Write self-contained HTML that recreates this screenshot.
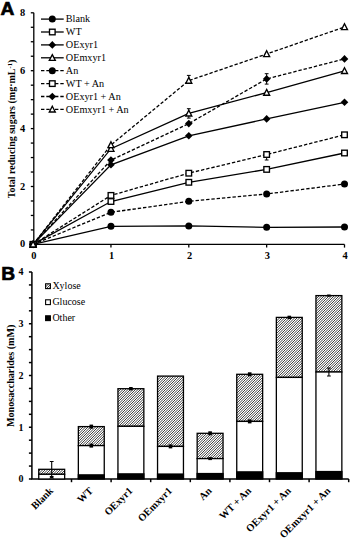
<!DOCTYPE html><html><head><meta charset="utf-8"><style>html,body{margin:0;padding:0;background:#fff;}body{width:350px;height:543px;overflow:hidden;font-family:"Liberation Serif", serif;}svg{display:block;}</style></head><body><svg width="350" height="543" viewBox="0 0 350 543">
<defs><pattern id="hatch" patternUnits="userSpaceOnUse" x="0" y="0" width="5" height="5"><rect width="5" height="5" fill="#fff"/><path d="M3.00 -3L-8.00 8M5.50 -3L-5.50 8M8.00 -3L-3.00 8M10.50 -3L-0.50 8M13.00 -3L2.00 8M15.50 -3L4.50 8" stroke="#000" stroke-width="0.75"/></pattern></defs>
<rect width="350" height="543" fill="#fff"/>
<text x="0.6" y="14.9" font-family="'Liberation Sans', sans-serif" font-weight="bold" font-size="19.2" stroke="#000" stroke-width="0.7">A</text>
<text x="1.2" y="280.2" font-family="'Liberation Sans', sans-serif" font-weight="bold" font-size="19.2" stroke="#000" stroke-width="0.7">B</text>
<g stroke="#000" stroke-width="1.3" fill="none">
<path d="M33.80 12.80V244.40H344.50"/>
<path d="M30.80 244.40H33.80"/>
<path d="M30.80 229.93H33.80"/>
<path d="M30.80 215.45H33.80"/>
<path d="M30.80 200.98H33.80"/>
<path d="M30.80 186.50H33.80"/>
<path d="M30.80 172.03H33.80"/>
<path d="M30.80 157.55H33.80"/>
<path d="M30.80 143.07H33.80"/>
<path d="M30.80 128.60H33.80"/>
<path d="M30.80 114.12H33.80"/>
<path d="M30.80 99.65H33.80"/>
<path d="M30.80 85.18H33.80"/>
<path d="M30.80 70.70H33.80"/>
<path d="M30.80 56.23H33.80"/>
<path d="M30.80 41.75H33.80"/>
<path d="M30.80 27.28H33.80"/>
<path d="M30.80 12.80H33.80"/>
<path d="M110.95 244.40V247.60"/>
<path d="M188.80 244.40V247.60"/>
<path d="M266.65 244.40V247.60"/>
<path d="M344.50 244.40V247.60"/>
</g>
<g font-family="'Liberation Serif', serif" font-weight="bold" font-size="10.4" text-anchor="middle" fill="#000" stroke="#000" stroke-width="0">
<text x="22.5" y="247.40">0</text>
<text x="22.5" y="189.50">2</text>
<text x="22.5" y="131.60">4</text>
<text x="22.5" y="73.70">6</text>
<text x="22.5" y="15.80">8</text>
<text x="33.80" y="258.9">0</text>
<text x="111.65" y="258.9">1</text>
<text x="189.50" y="258.9">2</text>
<text x="267.35" y="258.9">3</text>
<text x="345.20" y="258.9">4</text>
</g>
<text transform="translate(15.2 129) rotate(-90)" font-family="'Liberation Serif', serif" font-weight="bold" font-size="10" text-anchor="middle">Total reducing sugars (mg·mL<tspan font-size="6.5" dy="-3.5">-1</tspan><tspan dy="3.5">)</tspan></text>
<polyline points="33.10,244.40 110.95,226.30 188.80,225.90 266.65,227.30 344.50,227.00" fill="none" stroke="#000" stroke-width="1.3"/>
<polyline points="33.10,244.40 110.95,201.50 188.80,182.30 266.65,169.40 344.50,153.00" fill="none" stroke="#000" stroke-width="1.3"/>
<polyline points="33.10,244.40 110.95,164.80 188.80,135.80 266.65,118.90 344.50,102.30" fill="none" stroke="#000" stroke-width="1.3"/>
<polyline points="33.10,244.40 110.95,148.70 188.80,113.40 266.65,92.60 344.50,70.90" fill="none" stroke="#000" stroke-width="1.3"/>
<polyline points="33.10,244.40 110.95,212.30 188.80,201.30 266.65,194.00 344.50,184.00" fill="none" stroke="#000" stroke-width="1.3" stroke-dasharray="3.4 1.9"/>
<polyline points="33.10,244.40 110.95,195.40 188.80,173.20 266.65,154.50 344.50,134.80" fill="none" stroke="#000" stroke-width="1.3" stroke-dasharray="3.4 1.9"/>
<polyline points="33.10,244.40 110.95,160.10 188.80,123.60 266.65,78.90 344.50,58.90" fill="none" stroke="#000" stroke-width="1.3" stroke-dasharray="3.4 1.9"/>
<polyline points="33.10,244.40 110.95,145.00 188.80,80.60 266.65,54.00 344.50,27.00" fill="none" stroke="#000" stroke-width="1.3" stroke-dasharray="3.4 1.9"/>
<path d="M188.80 75.40V80.60M186.90 75.40H190.70" stroke="#000" stroke-width="1" fill="none"/>
<path d="M188.80 108.70V118.10M186.90 108.70H190.70M186.90 118.10H190.70" stroke="#000" stroke-width="1" fill="none"/>
<path d="M266.65 73.70V84.10M264.75 73.70H268.55M264.75 84.10H268.55" stroke="#000" stroke-width="1" fill="none"/>
<path d="M266.65 160.00V154.50M264.75 160.00H268.55" stroke="#000" stroke-width="1" fill="none"/>
<circle cx="33.10" cy="244.40" r="3.5" fill="#000"/>
<circle cx="110.95" cy="226.30" r="3.5" fill="#000"/>
<circle cx="188.80" cy="225.90" r="3.5" fill="#000"/>
<circle cx="266.65" cy="227.30" r="3.5" fill="#000"/>
<circle cx="344.50" cy="227.00" r="3.5" fill="#000"/>
<rect x="30.30" y="241.60" width="5.6" height="5.6" fill="#fff" stroke="#000" stroke-width="1.35"/>
<rect x="108.15" y="198.70" width="5.6" height="5.6" fill="#fff" stroke="#000" stroke-width="1.35"/>
<rect x="186.00" y="179.50" width="5.6" height="5.6" fill="#fff" stroke="#000" stroke-width="1.35"/>
<rect x="263.85" y="166.60" width="5.6" height="5.6" fill="#fff" stroke="#000" stroke-width="1.35"/>
<rect x="341.70" y="150.20" width="5.6" height="5.6" fill="#fff" stroke="#000" stroke-width="1.35"/>
<path d="M33.10 240.60L36.90 244.40L33.10 248.20L29.30 244.40Z" fill="#000"/>
<path d="M110.95 161.00L114.75 164.80L110.95 168.60L107.15 164.80Z" fill="#000"/>
<path d="M188.80 132.00L192.60 135.80L188.80 139.60L185.00 135.80Z" fill="#000"/>
<path d="M266.65 115.10L270.45 118.90L266.65 122.70L262.85 118.90Z" fill="#000"/>
<path d="M344.50 98.50L348.30 102.30L344.50 106.10L340.70 102.30Z" fill="#000"/>
<path d="M33.10 241.20L36.10 247.00L30.10 247.00Z" fill="#fff" stroke="#000" stroke-width="1.35" stroke-linejoin="miter"/>
<path d="M110.95 145.50L113.95 151.30L107.95 151.30Z" fill="#fff" stroke="#000" stroke-width="1.35" stroke-linejoin="miter"/>
<path d="M188.80 110.20L191.80 116.00L185.80 116.00Z" fill="#fff" stroke="#000" stroke-width="1.35" stroke-linejoin="miter"/>
<path d="M266.65 89.40L269.65 95.20L263.65 95.20Z" fill="#fff" stroke="#000" stroke-width="1.35" stroke-linejoin="miter"/>
<path d="M344.50 67.70L347.50 73.50L341.50 73.50Z" fill="#fff" stroke="#000" stroke-width="1.35" stroke-linejoin="miter"/>
<circle cx="33.10" cy="244.40" r="3.5" fill="#000"/>
<circle cx="110.95" cy="212.30" r="3.5" fill="#000"/>
<circle cx="188.80" cy="201.30" r="3.5" fill="#000"/>
<circle cx="266.65" cy="194.00" r="3.5" fill="#000"/>
<circle cx="344.50" cy="184.00" r="3.5" fill="#000"/>
<rect x="30.30" y="241.60" width="5.6" height="5.6" fill="#fff" stroke="#000" stroke-width="1.35"/>
<rect x="108.15" y="192.60" width="5.6" height="5.6" fill="#fff" stroke="#000" stroke-width="1.35"/>
<rect x="186.00" y="170.40" width="5.6" height="5.6" fill="#fff" stroke="#000" stroke-width="1.35"/>
<rect x="263.85" y="151.70" width="5.6" height="5.6" fill="#fff" stroke="#000" stroke-width="1.35"/>
<rect x="341.70" y="132.00" width="5.6" height="5.6" fill="#fff" stroke="#000" stroke-width="1.35"/>
<path d="M33.10 240.60L36.90 244.40L33.10 248.20L29.30 244.40Z" fill="#000"/>
<path d="M110.95 156.30L114.75 160.10L110.95 163.90L107.15 160.10Z" fill="#000"/>
<path d="M188.80 119.80L192.60 123.60L188.80 127.40L185.00 123.60Z" fill="#000"/>
<path d="M266.65 75.10L270.45 78.90L266.65 82.70L262.85 78.90Z" fill="#000"/>
<path d="M344.50 55.10L348.30 58.90L344.50 62.70L340.70 58.90Z" fill="#000"/>
<path d="M33.10 241.20L36.10 247.00L30.10 247.00Z" fill="#fff" stroke="#000" stroke-width="1.35" stroke-linejoin="miter"/>
<path d="M110.95 141.80L113.95 147.60L107.95 147.60Z" fill="#fff" stroke="#000" stroke-width="1.35" stroke-linejoin="miter"/>
<path d="M188.80 77.40L191.80 83.20L185.80 83.20Z" fill="#fff" stroke="#000" stroke-width="1.35" stroke-linejoin="miter"/>
<path d="M266.65 50.80L269.65 56.60L263.65 56.60Z" fill="#fff" stroke="#000" stroke-width="1.35" stroke-linejoin="miter"/>
<path d="M344.50 23.80L347.50 29.60L341.50 29.60Z" fill="#fff" stroke="#000" stroke-width="1.35" stroke-linejoin="miter"/>
<path d="M41.0 19.10H63.7" stroke="#000" stroke-width="1.3"/>
<circle cx="52.30" cy="19.10" r="3.5" fill="#000"/>
<text x="65.8" y="22.30" font-family="'Liberation Serif', serif" font-size="10.2">Blank</text>
<path d="M41.0 32.00H63.7" stroke="#000" stroke-width="1.3"/>
<rect x="49.50" y="29.20" width="5.6" height="5.6" fill="#fff" stroke="#000" stroke-width="1.35"/>
<text x="65.8" y="35.20" font-family="'Liberation Serif', serif" font-size="10.2">WT</text>
<path d="M41.0 44.90H63.7" stroke="#000" stroke-width="1.3"/>
<path d="M52.30 41.10L56.10 44.90L52.30 48.70L48.50 44.90Z" fill="#000"/>
<text x="65.8" y="48.10" font-family="'Liberation Serif', serif" font-size="10.2">OExyr1</text>
<path d="M41.0 57.80H63.7" stroke="#000" stroke-width="1.3"/>
<path d="M52.30 54.60L55.30 60.40L49.30 60.40Z" fill="#fff" stroke="#000" stroke-width="1.35" stroke-linejoin="miter"/>
<text x="65.8" y="61.00" font-family="'Liberation Serif', serif" font-size="10.2">OEmxyr1</text>
<path d="M41.0 70.70H52.3M63.7 70.70H52.3" stroke="#000" stroke-width="1.3" stroke-dasharray="3.4 1.9"/>
<circle cx="52.30" cy="70.70" r="3.5" fill="#000"/>
<text x="65.8" y="73.90" font-family="'Liberation Serif', serif" font-size="10.2">An</text>
<path d="M41.0 83.60H52.3M63.7 83.60H52.3" stroke="#000" stroke-width="1.3" stroke-dasharray="3.4 1.9"/>
<rect x="49.50" y="80.80" width="5.6" height="5.6" fill="#fff" stroke="#000" stroke-width="1.35"/>
<text x="65.8" y="86.80" font-family="'Liberation Serif', serif" font-size="10.2">WT + An</text>
<path d="M41.0 96.50H52.3M63.7 96.50H52.3" stroke="#000" stroke-width="1.3" stroke-dasharray="3.4 1.9"/>
<path d="M52.30 92.70L56.10 96.50L52.30 100.30L48.50 96.50Z" fill="#000"/>
<text x="65.8" y="99.70" font-family="'Liberation Serif', serif" font-size="10.2">OExyr1 + An</text>
<path d="M41.0 109.40H52.3M63.7 109.40H52.3" stroke="#000" stroke-width="1.3" stroke-dasharray="3.4 1.9"/>
<path d="M52.30 106.20L55.30 112.00L49.30 112.00Z" fill="#fff" stroke="#000" stroke-width="1.35" stroke-linejoin="miter"/>
<text x="65.8" y="112.60" font-family="'Liberation Serif', serif" font-size="10.2">OEmxyr1 + An</text>
<g stroke="#000" stroke-width="1.5" fill="none">
<path d="M31.90 272.00V479.00H348.70"/>
<path d="M28.90 479.00H31.90"/>
<path d="M28.90 466.06H31.90"/>
<path d="M28.90 453.12H31.90"/>
<path d="M28.90 440.19H31.90"/>
<path d="M28.90 427.25H31.90"/>
<path d="M28.90 414.31H31.90"/>
<path d="M28.90 401.38H31.90"/>
<path d="M28.90 388.44H31.90"/>
<path d="M28.90 375.50H31.90"/>
<path d="M28.90 362.56H31.90"/>
<path d="M28.90 349.62H31.90"/>
<path d="M28.90 336.69H31.90"/>
<path d="M28.90 323.75H31.90"/>
<path d="M28.90 310.81H31.90"/>
<path d="M28.90 297.88H31.90"/>
<path d="M28.90 284.94H31.90"/>
<path d="M28.90 272.00H31.90"/>
<path d="M71.50 479.00V482.20"/>
<path d="M111.10 479.00V482.20"/>
<path d="M150.70 479.00V482.20"/>
<path d="M190.30 479.00V482.20"/>
<path d="M229.90 479.00V482.20"/>
<path d="M269.50 479.00V482.20"/>
<path d="M309.10 479.00V482.20"/>
<path d="M348.70 479.00V482.20"/>
</g>
<g font-family="'Liberation Serif', serif" font-weight="bold" font-size="10" text-anchor="middle" fill="#000">
<text x="20.9" y="482.40">0</text>
<text x="20.9" y="430.65">1</text>
<text x="20.9" y="378.90">2</text>
<text x="20.9" y="327.15">3</text>
<text x="20.9" y="275.40">4</text>
</g>
<text transform="translate(13.8 375.8) rotate(-90)" font-family="'Liberation Serif', serif" font-weight="bold" font-size="10.1" text-anchor="middle">Monosaccharides (mM)</text>
<rect x="38.75" y="469.30" width="25.9" height="5.00" fill="url(#hatch)" stroke="#000" stroke-width="1.3"/>
<rect x="38.75" y="474.30" width="25.9" height="4.70" fill="#fff" stroke="#000" stroke-width="1.3"/>
<text transform="translate(53.90 491.4) rotate(-45)" font-family="'Liberation Serif', serif" font-weight="bold" font-size="10.3" text-anchor="end">Blank</text>
<rect x="78.35" y="426.60" width="25.9" height="19.00" fill="url(#hatch)" stroke="#000" stroke-width="1.3"/>
<rect x="78.35" y="445.60" width="25.9" height="33.40" fill="#fff" stroke="#000" stroke-width="1.3"/>
<rect x="77.70" y="474.20" width="27.20" height="4.80" fill="#000"/>
<text transform="translate(93.50 491.4) rotate(-45)" font-family="'Liberation Serif', serif" font-weight="bold" font-size="10.3" text-anchor="end">WT</text>
<rect x="117.95" y="388.70" width="25.9" height="37.60" fill="url(#hatch)" stroke="#000" stroke-width="1.3"/>
<rect x="117.95" y="426.30" width="25.9" height="52.70" fill="#fff" stroke="#000" stroke-width="1.3"/>
<rect x="117.30" y="473.20" width="27.20" height="5.80" fill="#000"/>
<text transform="translate(133.10 491.4) rotate(-45)" font-family="'Liberation Serif', serif" font-weight="bold" font-size="10.3" text-anchor="end">OExyr1</text>
<rect x="157.55" y="376.10" width="25.9" height="70.30" fill="url(#hatch)" stroke="#000" stroke-width="1.3"/>
<rect x="157.55" y="446.40" width="25.9" height="32.60" fill="#fff" stroke="#000" stroke-width="1.3"/>
<rect x="156.90" y="473.40" width="27.20" height="5.60" fill="#000"/>
<text transform="translate(172.70 491.4) rotate(-45)" font-family="'Liberation Serif', serif" font-weight="bold" font-size="10.3" text-anchor="end">OEmxyr1</text>
<rect x="197.15" y="433.30" width="25.9" height="25.30" fill="url(#hatch)" stroke="#000" stroke-width="1.3"/>
<rect x="197.15" y="458.60" width="25.9" height="20.40" fill="#fff" stroke="#000" stroke-width="1.3"/>
<rect x="196.50" y="472.90" width="27.20" height="6.10" fill="#000"/>
<text transform="translate(212.30 491.4) rotate(-45)" font-family="'Liberation Serif', serif" font-weight="bold" font-size="10.3" text-anchor="end">An</text>
<rect x="236.75" y="374.30" width="25.9" height="47.10" fill="url(#hatch)" stroke="#000" stroke-width="1.3"/>
<rect x="236.75" y="421.40" width="25.9" height="57.60" fill="#fff" stroke="#000" stroke-width="1.3"/>
<rect x="236.10" y="471.20" width="27.20" height="7.80" fill="#000"/>
<text transform="translate(251.90 491.4) rotate(-45)" font-family="'Liberation Serif', serif" font-weight="bold" font-size="10.3" text-anchor="end">WT + An</text>
<rect x="276.35" y="317.40" width="25.9" height="60.00" fill="url(#hatch)" stroke="#000" stroke-width="1.3"/>
<rect x="276.35" y="377.40" width="25.9" height="101.60" fill="#fff" stroke="#000" stroke-width="1.3"/>
<rect x="275.70" y="472.10" width="27.20" height="6.90" fill="#000"/>
<text transform="translate(291.50 491.4) rotate(-45)" font-family="'Liberation Serif', serif" font-weight="bold" font-size="10.3" text-anchor="end">OExyr1 + An</text>
<rect x="315.95" y="295.60" width="25.9" height="76.40" fill="url(#hatch)" stroke="#000" stroke-width="1.3"/>
<rect x="315.95" y="372.00" width="25.9" height="107.00" fill="#fff" stroke="#000" stroke-width="1.3"/>
<rect x="315.30" y="470.90" width="27.20" height="8.10" fill="#000"/>
<text transform="translate(331.10 491.4) rotate(-45)" font-family="'Liberation Serif', serif" font-weight="bold" font-size="10.3" text-anchor="end">OEmxyr1 + An</text>
<path d="M51.70 461.50V476.50M49.80 461.50H53.60M49.80 476.50H53.60" stroke="#000" stroke-width="1.1" fill="none"/>
<rect x="89.50" y="424.60" width="3.6" height="4.00" fill="#000"/>
<rect x="89.50" y="443.60" width="3.6" height="4.00" fill="#000"/>
<rect x="129.10" y="387.00" width="3.6" height="3.40" fill="#000"/>
<rect x="168.70" y="444.40" width="3.6" height="4.00" fill="#000"/>
<rect x="208.30" y="431.30" width="3.6" height="4.00" fill="#000"/>
<rect x="208.30" y="457.10" width="3.6" height="3.00" fill="#000"/>
<rect x="247.90" y="372.30" width="3.6" height="4.00" fill="#000"/>
<rect x="247.90" y="419.40" width="3.6" height="4.00" fill="#000"/>
<rect x="287.50" y="315.70" width="3.6" height="3.40" fill="#000"/>
<path d="M328.90 368.00V376.00M327.00 368.00H330.80M327.00 376.00H330.80" stroke="#000" stroke-width="1.1" fill="none"/>
<rect x="327.10" y="294.50" width="3.6" height="2.20" fill="#000"/>
<path d="M49.10 478.6L51.70 475.4L54.30 478.6Z" fill="#000"/>
<rect x="45.6" y="283.80" width="4.8" height="4.8" fill="url(#hatch)" stroke="#000" stroke-width="1.1"/>
<text x="52.4" y="289.30" font-family="'Liberation Serif', serif" font-size="10">Xylose</text>
<rect x="45.6" y="299.80" width="4.8" height="4.8" fill="#fff" stroke="#000" stroke-width="1.1"/>
<text x="52.4" y="305.30" font-family="'Liberation Serif', serif" font-size="10">Glucose</text>
<rect x="45.6" y="315.80" width="4.8" height="4.8" fill="#000" stroke="#000" stroke-width="1.1"/>
<text x="52.4" y="321.30" font-family="'Liberation Serif', serif" font-size="10">Other</text>
</svg></body></html>
